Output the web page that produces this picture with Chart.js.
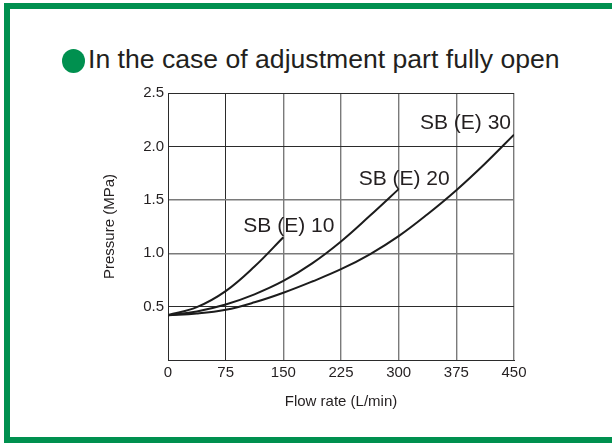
<!DOCTYPE html>
<html>
<head>
<meta charset="utf-8">
<script src="https://cdn.jsdelivr.net/npm/chart.js@4.4.1/dist/chart.umd.min.js"></script>
<style>
  html, body { margin: 0; padding: 0; background: #fff; }
  body { width: 612px; height: 443px; position: relative; overflow: hidden; }
  #frame {
    position: absolute; left: 4px; top: 3px; width: 700px; height: 440px;
    box-sizing: border-box; border: 6px solid #00904f; border-right: none;
  }
  #title {
    position: absolute; left: 62px; top: 41px; white-space: nowrap;
    font-family: "Liberation Sans", Arial, sans-serif; font-size: 26.6px;
    color: #231f20; line-height: 36px;
  }
  #title .dot {
    display: inline-block; width: 23px; height: 24px; border-radius: 50%;
    background: #00904f; vertical-align: -5px; margin-right: 3px;
  }
  #chart { position: absolute; left: 0; top: 0; }
</style>
</head>
<body>
<div id="frame"></div>
<div id="title"><span class="dot"></span><span id="titleText">In the case of adjustment part fully open</span></div>
<canvas id="chart" width="612" height="443"></canvas>
<script>
// Flow rate sample positions (L/min)
const flowRates = [0, 37.5, 75, 112.5, 150, 187.5, 225, 262.5, 300, 337.5, 375, 412.5, 450];

// Pressure (MPa) per model at the flow rates above
const sb10 = [0.42, 0.495, 0.645, 0.875, 1.15];
const sb20 = [0.42, 0.455, 0.52, 0.615, 0.74, 0.905, 1.11, 1.35, 1.60];
const sb30 = [0.42, 0.435, 0.47, 0.54, 0.63, 0.735, 0.85, 0.99, 1.16, 1.365, 1.59, 1.84, 2.11];

const seriesNames = ['SB (E) 10', 'SB (E) 20', 'SB (E) 30'];
const xTicks = [0, 75, 150, 225, 300, 375, 450];
const yTicks = [0, 0.5, 1.0, 1.5, 2.0, 2.5];

const FONT = '"Liberation Sans", Arial, sans-serif';
const INK = '#231f20';
const GRID_DARK = '#2b2b2b';
const GRID_GRAY = '#7a7a7a';

const toPoints = vals => vals.map((v, i) => ({ x: flowRates[i], y: v }));

// text placement of each curve name relative to the curve's last point
const nameOffsets = [
  { dx: -40, dy: -5 },
  { dx: -40, dy: -4 },
  { dx: -94, dy: -6 }
];

const curveNames = {
  id: 'curveNames',
  afterDatasetsDraw(chart) {
    const ctx = chart.ctx;
    ctx.save();
    ctx.font = '21px ' + FONT;
    ctx.fillStyle = INK;
    ctx.textAlign = 'left';
    ctx.textBaseline = 'alphabetic';
    chart.data.datasets.forEach((ds, i) => {
      const pts = chart.getDatasetMeta(i).data;
      const end = pts[pts.length - 1];
      const off = nameOffsets[i];
      ctx.fillText(ds.label, end.x + off.dx, end.y + off.dy);
    });
    ctx.restore();
  }
};

const lineStyle = {
  borderColor: '#1c1c1c',
  borderWidth: 2,
  pointRadius: 0,
  fill: false,
  tension: 0.4
};

new Chart(document.getElementById('chart'), {
  type: 'line',
  data: {
    datasets: [
      Object.assign({ label: seriesNames[0], data: toPoints(sb10) }, lineStyle),
      Object.assign({ label: seriesNames[1], data: toPoints(sb20) }, lineStyle),
      Object.assign({ label: seriesNames[2], data: toPoints(sb30) }, lineStyle)
    ]
  },
  options: {
    responsive: false,
    animation: false,
    devicePixelRatio: 1,
    layout: { padding: { left: 0, top: 93, right: 98, bottom: 0 } },
    plugins: { legend: { display: false }, tooltip: { enabled: false } },
    scales: {
      x: {
        type: 'linear',
        min: 0, max: 450,
        afterBuildTicks: s => { s.ticks = xTicks.map(v => ({ value: v })); },
        afterFit: s => { s.height = 83; },
        ticks: { color: INK, font: { family: FONT, size: 15 }, padding: 4, maxRotation: 0 },
        grid: {
          drawTicks: false,
          color: c => (c.tick && (c.tick.value === 0 || c.tick.value === 75)) ? GRID_DARK : GRID_GRAY,
          lineWidth: c => (c.tick && (c.tick.value === 0 || c.tick.value === 75)) ? 1 : 1.4
        },
        border: { display: true, color: GRID_DARK, width: 1 },
        title: {
          display: true, text: 'Flow rate (L/min)', color: INK,
          font: { family: FONT, size: 15 }, padding: { top: 0, bottom: 32 }
        }
      },
      y: {
        type: 'linear',
        min: 0, max: 2.5,
        afterBuildTicks: s => { s.ticks = yTicks.map(v => ({ value: v })); },
        afterFit: s => { s.width = 168; },
        ticks: {
          color: INK, font: { family: FONT, size: 15 }, padding: 4,
          callback: v => v === 0 ? '' : v.toFixed(1)
        },
        grid: {
          drawTicks: false,
          color: c => (c.tick && (c.tick.value === 1.0 || c.tick.value === 1.5)) ? GRID_GRAY : GRID_DARK,
          lineWidth: c => (c.tick && (c.tick.value === 1.0 || c.tick.value === 1.5)) ? 1.4 : 1
        },
        border: { display: true, color: GRID_DARK, width: 1 },
        title: {
          display: true, text: 'Pressure (MPa)', color: INK,
          font: { family: FONT, size: 15 }, padding: { top: 101, bottom: 0 }
        }
      }
    }
  },
  plugins: [curveNames]
});
</script>
</body>
</html>
